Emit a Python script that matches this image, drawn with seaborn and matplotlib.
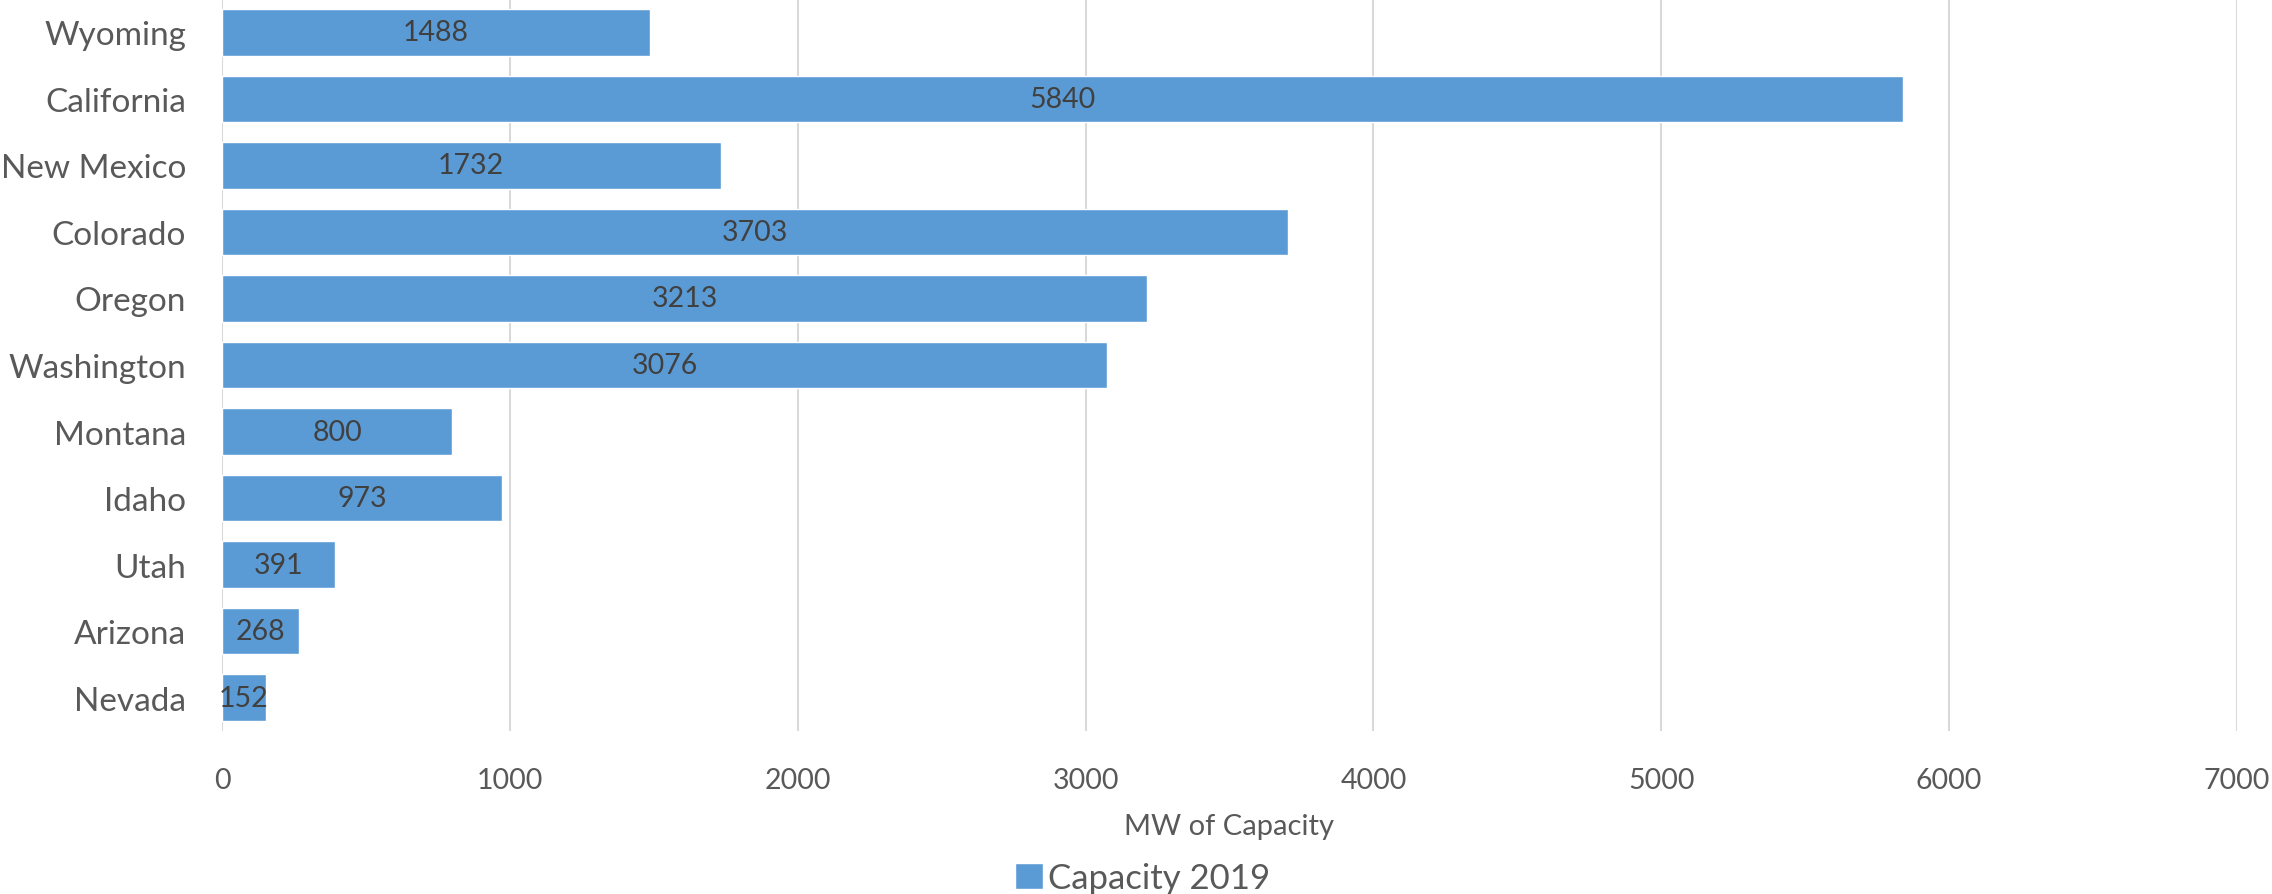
import matplotlib.pyplot as plt
import seaborn as sns
import pandas as pd
from matplotlib.patches import Patch

states = ["Wyoming", "California", "New Mexico", "Colorado", "Oregon", "Washington",
          "Montana", "Idaho", "Utah", "Arizona", "Nevada"]
capacity = [1488, 5840, 1732, 3703, 3213, 3076, 800, 973, 391, 268, 152]
x_ticks = [0, 1000, 2000, 3000, 4000, 5000, 6000, 7000]
series_name = "Capacity 2019"

bar_color = "#5B9BD5"
text_color = "#595959"

df = pd.DataFrame({"State": states, "MW": capacity})

sns.set_theme(style="white")
plt.rcParams['font.family'] = ['Lato', 'DejaVu Sans']

W, H = 2272, 895
fig = plt.figure(figsize=(W / 100, H / 100), dpi=100)
ax = fig.add_axes([222 / W, 1 - 732 / H, (2237 - 222) / W, 732 / H])

sns.barplot(data=df, y="State", x="MW", color=bar_color, saturation=1,
            width=0.7, ax=ax, orient="h")

ax.set_xlim(0, 7000)
ax.set_xticks(x_ticks)
ax.grid(axis="x", color="#D9D9D9", linewidth=1.5)
ax.grid(axis="y", visible=False)
ax.set_axisbelow(True)
for s in ax.spines.values():
    s.set_visible(False)

ax.tick_params(axis="y", length=0, pad=26, labelsize=24, labelcolor=text_color)
ax.tick_params(axis="x", length=0, pad=26, labelsize=20.5, labelcolor=text_color)

ax.bar_label(ax.containers[0], label_type="center", fontsize=20.5, color="#404040")

ax.set_ylabel("")
ax.set_xlabel("MW of Capacity", fontsize=21, color=text_color, labelpad=14)

handles = [Patch(facecolor=bar_color, label=series_name)]
fig.legend(handles=handles, loc="lower center", bbox_to_anchor=(0.503, -0.035),
           frameon=False, fontsize=25, handlelength=0.8, handleheight=0.8,
           handletextpad=0.15, labelcolor=text_color)

fig.savefig("out.png", dpi=100)
